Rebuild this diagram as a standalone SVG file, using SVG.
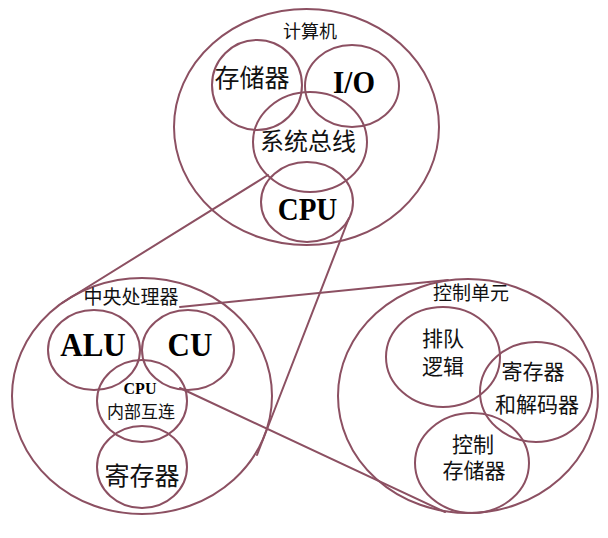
<svg xmlns="http://www.w3.org/2000/svg" width="608" height="538" viewBox="0 0 608 538">
<style>
.c{fill:none;stroke:#8c5062;stroke-width:2}
.l{fill:none;stroke:#8c5062;stroke-width:2;stroke-linecap:round}
.zh{font-family:"Liberation Serif","Noto Sans CJK SC",serif;fill:#111;text-anchor:middle;dominant-baseline:central}
.en{font-family:"Liberation Serif",serif;font-weight:bold;fill:#000;text-anchor:middle;dominant-baseline:central}
</style>
<rect width="608" height="538" fill="#fff"/>
<g id="computer">
<ellipse class="c" cx="306.5" cy="127" rx="132.5" ry="118"/>
<text class="zh" x="310" y="32" font-size="18">计算机</text>
</g>
<g id="memory">
<ellipse class="c" cx="257" cy="85" rx="45" ry="45"/>
<text class="zh" x="252" y="78" font-size="25">存储器</text>
</g>
<g id="io">
<ellipse class="c" cx="352" cy="86" rx="47" ry="41"/>
<text class="en" transform="translate(354,82) scale(1,1.12)" font-size="29">I/O</text>
</g>
<g id="bus">
<ellipse class="c" cx="310" cy="142" rx="57" ry="50"/>
<text class="zh" x="308" y="142" font-size="24">系统总线</text>
</g>
<g id="cpu">
<ellipse class="c" cx="307" cy="202" rx="46" ry="40"/>
<text class="en" transform="translate(307.5,209) scale(1,1.12)" font-size="29">CPU</text>
</g>
<g id="cpu-detail">
<ellipse class="c" cx="142" cy="396" rx="130" ry="118"/>
<text class="zh" x="131" y="297" font-size="19">中央处理器</text>
</g>
<g id="alu">
<ellipse class="c" cx="94" cy="350" rx="46" ry="40"/>
<text class="en" transform="translate(93,344) scale(1,1.12)" font-size="31">ALU</text>
</g>
<g id="cu">
<ellipse class="c" cx="188" cy="350" rx="46" ry="40"/>
<text class="en" transform="translate(190,344) scale(1,1.12)" font-size="31">CU</text>
</g>
<g id="interconnect">
<ellipse class="c" cx="142" cy="401" rx="45" ry="41"/>
<text class="en" x="140" y="388" font-size="16">CPU</text>
<text class="zh" x="141" y="412" font-size="17">内部互连</text>
</g>
<g id="registers">
<ellipse class="c" cx="142" cy="467" rx="45" ry="41"/>
<text class="zh" x="142" y="476" font-size="25">寄存器</text>
</g>
<g id="control-unit">
<ellipse class="c" cx="468" cy="396" rx="130" ry="117"/>
<text class="zh" x="471" y="293" font-size="19">控制单元</text>
</g>
<g id="sequencing">
<ellipse class="c" cx="443" cy="357" rx="57" ry="50"/>
<text class="zh" x="443" y="339" font-size="21">排队</text>
<text class="zh" x="443" y="367" font-size="21">逻辑</text>
</g>
<g id="reg-decoder">
<ellipse class="c" cx="536" cy="392" rx="56" ry="50"/>
<text class="zh" x="533" y="372" font-size="21">寄存器</text>
<text class="zh" x="537" y="405" font-size="21">和解码器</text>
</g>
<g id="control-memory">
<ellipse class="c" cx="472" cy="463" rx="57" ry="50"/>
<text class="zh" x="473" y="445" font-size="21">控制</text>
<text class="zh" x="474" y="471" font-size="21">存储器</text>
</g>
<g id="connectors">
<line class="l" x1="268" y1="175" x2="62" y2="303"/>
<line class="l" x1="349" y1="218" x2="257" y2="455"/>
<line class="l" x1="180" y1="307" x2="448" y2="280"/>
<line class="l" x1="180" y1="388" x2="445" y2="512"/>
</g>
</svg>
